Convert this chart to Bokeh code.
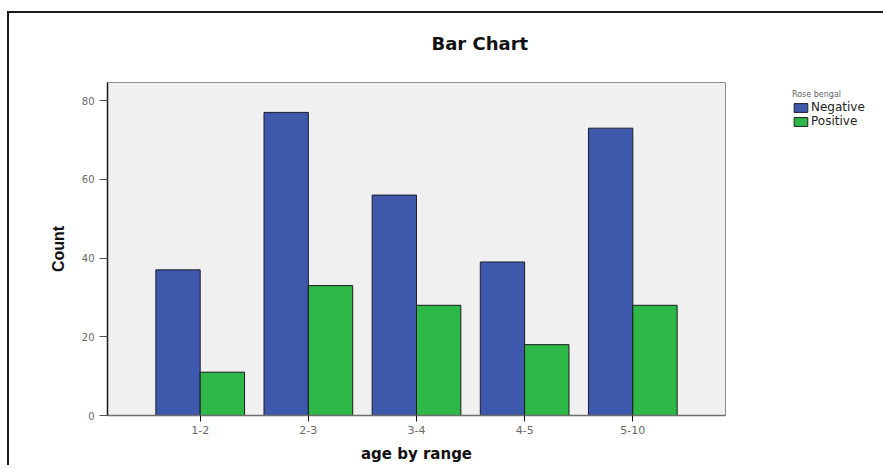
from bokeh.plotting import figure
from bokeh.models import ColumnDataSource, FactorRange, Range1d, Legend, LegendItem, FixedTicker, Title
from bokeh.transform import dodge
from bokeh.embed import file_html
from bokeh.resources import INLINE

categories = ["1-2", "2-3", "3-4", "4-5", "5-10"]
negative = [37, 77, 56, 39, 73]
positive = [11, 33, 28, 18, 28]
series_names = ["Negative", "Positive"]
y_ticks = [0, 20, 40, 60, 80]

source = ColumnDataSource(dict(cat=categories, neg=negative, pos=positive))

p = figure(
    x_range=FactorRange(factors=categories, range_padding=0.357, range_padding_units="absolute"),
    y_range=Range1d(0, 84.6),
    frame_width=618, frame_height=333,
    min_border_left=98, min_border_top=69, min_border_right=156, min_border_bottom=40,
    output_backend="svg", toolbar_location=None,
)
p.styles = {"border-top": "2px solid #1a1a1a", "border-left": "2px solid #1a1a1a",
            "margin-top": "11px", "margin-left": "7px"}

p.background_fill_color = "#f0f0f0"
p.border_fill_color = "white"
p.outline_line_color = "#8c8c8c"
p.outline_line_width = 1
p.xgrid.visible = False
p.ygrid.visible = False

r_neg = p.vbar(x=dodge("cat", -0.205, range=p.x_range), top="neg", width=0.41, source=source,
               fill_color="#3e58ac", line_color="#1c1c2c", line_width=1)
r_pos = p.vbar(x=dodge("cat", 0.205, range=p.x_range), top="pos", width=0.41, source=source,
               fill_color="#2eb848", line_color="#1c1c1c", line_width=1)

# axes
p.yaxis.ticker = FixedTicker(ticks=y_ticks)
p.yaxis.minor_tick_line_color = None
p.yaxis.major_tick_in = 0
p.yaxis.major_tick_out = 8
p.yaxis.major_tick_line_color = "#555555"
p.yaxis.axis_line_color = "#1a1a1a"
p.yaxis.axis_line_width = 1.5
p.yaxis.major_label_text_font = "DejaVu Sans"
p.yaxis.major_label_text_font_size = "10px"
p.yaxis.major_label_text_color = "#6a6a6a"
p.yaxis.major_label_standoff = 5
p.yaxis.axis_label = "Count"
p.yaxis.axis_label_text_font = "Liberation Sans"
p.yaxis.axis_label_text_font_style = "bold"
p.yaxis.axis_label_text_font_size = "16px"
p.yaxis.axis_label_text_color = "#111111"
p.yaxis.axis_label_standoff = 12

p.xaxis.major_tick_in = 0
p.xaxis.major_tick_out = 6
p.xaxis.major_tick_line_color = "#111111"
p.xaxis.axis_line_color = "#6e6e6e"
p.xaxis.axis_line_width = 1.5
p.xaxis.major_label_text_font = "DejaVu Sans"
p.xaxis.major_label_text_font_size = "11px"
p.xaxis.major_label_text_color = "#6a6a6a"
p.xaxis.major_label_standoff = 4
p.xaxis.axis_label = "age by range"
p.xaxis.axis_label_text_font = "DejaVu Sans"
p.xaxis.axis_label_text_font_style = "bold"
p.xaxis.axis_label_text_font_size = "15px"
p.xaxis.axis_label_text_color = "#111111"
p.xaxis.axis_label_standoff = 8

# real title (outermost panel)
p.title.text = "Bar Chart"
p.title.align = "left"
p.title.offset = 324
p.title.text_font = "DejaVu Sans"
p.title.text_font_style = "bold"
p.title.text_font_size = "18px"
p.title.text_color = "#111111"
p.title.standoff = 33

# invisible spacer between the frame and the title
spacer = Title(text=" ", text_font_size="2px", standoff=8)
p.add_layout(spacer, "above")

legend = Legend(
    items=[LegendItem(label=series_names[0], renderers=[r_neg]),
           LegendItem(label=series_names[1], renderers=[r_pos])],
    location=(67, 287),
    title="Rose bengal",
    title_text_font="DejaVu Sans", title_text_font_size="8px", title_text_color="#666666",
    title_text_font_style="normal", title_standoff=1,
    label_text_font="DejaVu Sans", label_text_font_size="12px", label_text_color="#222222",
    glyph_width=17, glyph_height=11, label_height=11, label_standoff=2, spacing=0,
    padding=0, margin=0, border_line_color=None, background_fill_alpha=0,
)
p.add_layout(legend, "right")

open("out.html", "w").write(file_html(p, INLINE))
